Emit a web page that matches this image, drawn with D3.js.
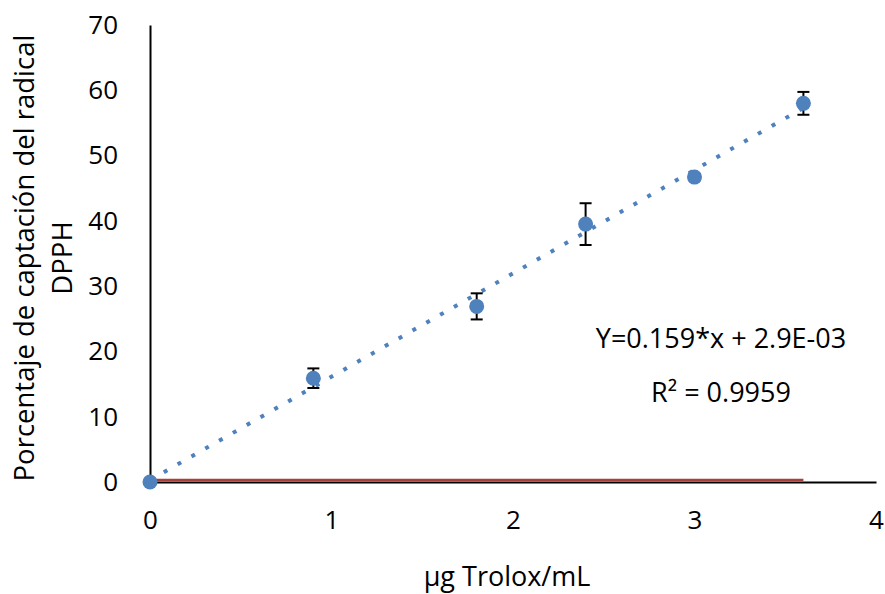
<!DOCTYPE html>
<html lang="es">
<head>
<meta charset="UTF-8">
<title>DPPH Trolox</title>
<script src="https://d3js.org/d3.v7.min.js"></script>
<style>
  body { margin: 0; background: #fff; }
  svg text { font-family: "Open Sans", "Noto Sans", sans-serif; fill: #000; }
</style>
</head>
<body>
<script>
// data
const concentrations = [0, 0.9, 1.8, 2.4, 3.0, 3.6];
const scavenging = [0, 15.9, 26.9, 39.5, 46.7, 58.0];
const scavengingErr = [0, 1.5, 2.0, 3.2, 0.5, 1.75];
// second (red) series lying along the bottom
const blankX = [0, 3.6];
const blankY = [0.3, 0.3];
const xTicks = [0, 1, 2, 3, 4];
const yTicks = [0, 10, 20, 30, 40, 50, 60, 70];
const equationText = "Y=0.159*x + 2.9E-03";
const r2Text = "R² = 0.9959";

const width = 885, height = 594;
const blue = "#4f81bd";

const svg = d3.select("body").append("svg")
  .attr("width", width)
  .attr("height", height);

const x = d3.scaleLinear().domain([0, 4]).range([150, 876]);
const y = d3.scaleLinear().domain([0, 70]).range([482, 25]);

// axes, no tick marks
const xAxis = svg.append("g")
  .attr("transform", `translate(0,${y(0)})`)
  .call(d3.axisBottom(x).tickValues(xTicks).tickSize(0).tickPadding(29).tickFormat(d3.format("d")));
const yAxis = svg.append("g")
  .attr("transform", `translate(${x(0)},0)`)
  .call(d3.axisLeft(y).tickValues(yTicks).tickSize(0).tickPadding(32).tickFormat(d3.format("d")));

[xAxis, yAxis].forEach(g => {
  g.select(".domain").attr("stroke", "#000").attr("stroke-width", 2);
  g.selectAll("text").attr("font-size", 26).attr("font-family", null);
});

// red series
svg.append("path")
  .datum(blankX.map((d, i) => [d, blankY[i]]))
  .attr("fill", "none")
  .attr("stroke", "#a5403c")
  .attr("stroke-width", 2.5)
  .attr("d", d3.line().x(d => x(d[0])).y(d => y(d[1])));

// linear trendline (least squares)
const mx = d3.mean(concentrations), my = d3.mean(scavenging);
const slope = d3.sum(concentrations, (d, i) => (d - mx) * (scavenging[i] - my)) /
  d3.sum(concentrations, d => (d - mx) * (d - mx));
const intercept = my - slope * mx;
const xr = d3.extent(concentrations);
svg.append("line")
  .attr("x1", x(xr[0])).attr("y1", y(intercept + slope * xr[0]))
  .attr("x2", x(xr[1])).attr("y2", y(intercept + slope * xr[1]))
  .attr("stroke", blue)
  .attr("stroke-width", 4)
  .attr("stroke-dasharray", "4 11.9");

// error bars
const pts = concentrations.map((c, i) => ({ x: c, y: scavenging[i], e: scavengingErr[i] }));
const eb = svg.append("g").attr("stroke", "#000").attr("stroke-width", 2);
pts.filter(d => d.e > 0).forEach(d => {
  eb.append("line").attr("x1", x(d.x)).attr("x2", x(d.x))
    .attr("y1", y(d.y + d.e)).attr("y2", y(d.y - d.e));
  [d.y + d.e, d.y - d.e].forEach(v => {
    eb.append("line").attr("x1", x(d.x) - 6).attr("x2", x(d.x) + 6)
      .attr("y1", y(v)).attr("y2", y(v));
  });
});

// markers
svg.append("g").selectAll("circle")
  .data(pts)
  .join("circle")
  .attr("cx", d => x(d.x))
  .attr("cy", d => y(d.y))
  .attr("r", 7.5)
  .attr("fill", blue);

// equation labels
svg.append("text").attr("x", 721).attr("y", 348)
  .attr("text-anchor", "middle").attr("font-size", 27).text(equationText);
svg.append("text").attr("x", 721).attr("y", 402)
  .attr("text-anchor", "middle").attr("font-size", 27).text(r2Text);

// axis titles
svg.append("text").attr("x", 507).attr("y", 586)
  .attr("text-anchor", "middle").attr("font-size", 27).text("µg Trolox/mL");

const yt = svg.append("text")
  .attr("transform", "translate(34,258) rotate(-90)")
  .attr("text-anchor", "middle").attr("font-size", 27.5);
yt.append("tspan").attr("x", 0).attr("y", 0).text("Porcentaje de captación del radical");
yt.append("tspan").attr("x", 0).attr("y", 38).text("DPPH");
</script>
</body>
</html>
